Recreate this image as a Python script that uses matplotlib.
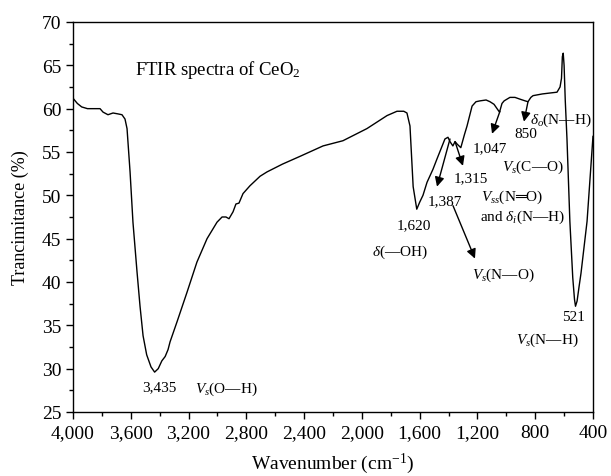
import matplotlib
matplotlib.use('Agg')
import matplotlib.pyplot as plt
from matplotlib.ticker import MultipleLocator, FuncFormatter

plt.rcParams['font.family'] = ['Liberation Serif', 'DejaVu Serif']
plt.rcParams['mathtext.fontset'] = 'custom'
plt.rcParams['mathtext.rm'] = 'Liberation Serif'
plt.rcParams['mathtext.it'] = 'Liberation Serif:italic'

# FTIR spectrum of CeO2 (wavenumber in cm-1, transmittance in %)
wavenumber = [4000, 3970, 3940, 3900, 3850, 3813, 3792, 3758, 3723, 3690, 3661, 3640,
              3626, 3605, 3585, 3557, 3536, 3515, 3490, 3460, 3435, 3410, 3385, 3362,
              3342, 3328, 3280, 3211, 3142, 3072, 3003, 2968, 2941, 2920, 2892, 2872,
              2851, 2823, 2775, 2705, 2657, 2550, 2428, 2269, 2131, 1965, 1826, 1757,
              1710, 1688, 1667, 1645, 1620, 1600, 1577, 1549, 1508, 1480, 1425, 1404,
              1390, 1370, 1355, 1340, 1315, 1290, 1272, 1237, 1210, 1182, 1140, 1113,
              1085, 1060, 1047, 1030, 1015, 975, 940, 906, 870, 850, 830, 815, 750,
              700, 649, 628, 618, 612, 606, 600, 592, 580, 560, 540, 528, 521, 510,
              496, 483, 441, 400]
transmittance = [61.2, 60.6, 60.2, 60.0, 60.0, 60.0, 59.6, 59.3, 59.5, 59.4, 59.3, 58.8,
                 57.7, 52.7, 46.9, 41.2, 37.2, 33.8, 31.6, 30.2, 29.6, 30.0, 30.9, 31.4,
                 32.2, 33.1, 35.4, 38.8, 42.3, 45.0, 46.9, 47.5, 47.5, 47.3, 48.1, 49.0,
                 49.1, 50.2, 51.1, 52.2, 52.7, 53.6, 54.5, 55.7, 56.3, 57.7, 59.2, 59.7,
                 59.7, 59.5, 58.0, 51.0, 48.4, 49.2, 50.0, 51.5, 53.0, 54.2, 56.5, 56.7,
                 56.2, 55.7, 56.2, 55.9, 55.5, 57.0, 58.0, 60.3, 60.8, 60.9, 61.0, 60.8,
                 60.5, 59.9, 59.6, 60.6, 60.9, 61.3, 61.3, 61.1, 60.9, 60.8, 61.3, 61.5,
                 61.7, 61.8, 61.9, 62.5, 63.5, 66.0, 66.4, 65.0, 61.0, 56.5, 47.0, 40.5,
                 38.0, 37.2, 37.8, 39.5, 41.0, 47.0, 56.8]

fig = plt.figure(figsize=(6.11, 4.77), dpi=100)
ax = fig.add_axes([0.1195, 0.1342, 0.851, 0.8176])
ax.plot(wavenumber, transmittance, color='black', lw=1.0)

ax.set_xlim(4000, 400)
ax.set_ylim(25, 70)
ax.xaxis.set_major_locator(MultipleLocator(400))
ax.xaxis.set_minor_locator(MultipleLocator(200))
ax.yaxis.set_major_locator(MultipleLocator(5))
ax.yaxis.set_minor_locator(MultipleLocator(2.5))
ax.xaxis.set_major_formatter(FuncFormatter(lambda v, p: f'{int(v):,}'))
ax.tick_params(which='major', direction='out', length=5, width=1, labelsize=14)
ax.tick_params(which='minor', direction='out', length=3, width=1)
for s in ax.spines.values():
    s.set_linewidth(1.0)

ax.set_xlabel('Wavenumber (cm$^{-1}$)', fontsize=14, labelpad=7)
ax.set_ylabel('Trancimitance (%)', fontsize=13, labelpad=9)

ax.text(3571, 64.6, 'FTIR spectra of CeO$_2$', fontsize=13.5, ha='left', va='center')

# peak labels
fs = 11
ax.text(3400, 27.9, '3,435', fontsize=fs, ha='center', va='center')
ax.text(3155, 27.7, '$V_s$(O—H)', fontsize=fs, ha='left', va='center')
ax.text(1639, 46.6, '1,620', fontsize=fs, ha='center', va='center')
ax.text(1736, 43.5, r'$\delta$(—OH)', fontsize=fs, ha='center', va='center')
ax.text(1425, 49.35, '1,387', fontsize=fs, ha='center', va='center')
ax.text(1245, 52.0, '1,315', fontsize=fs, ha='center', va='center')
ax.text(1113, 55.5, '1,047', fontsize=fs, ha='center', va='center')
ax.text(864, 57.1, '850', fontsize=fs, ha='center', va='center')
ax.text(836, 58.8, r'$\delta_o$(N—H)', fontsize=fs, ha='left', va='center')
ax.text(815, 53.4, '$V_s$(C—O)', fontsize=fs, ha='center', va='center')
ax.text(961, 49.9, '$V_{ss}$(N═O)', fontsize=fs, ha='center', va='center')
ax.text(885, 47.6, r'and $\delta_i$(N—H)', fontsize=fs, ha='center', va='center')
ax.text(1023, 40.9, '$V_s$(N—O)', fontsize=fs, ha='center', va='center')
ax.text(538, 36.0, '521', fontsize=fs, ha='center', va='center')
ax.text(718, 33.4, '$V_s$(N—H)', fontsize=fs, ha='center', va='center')

# arrows
arrow = dict(arrowstyle='-|>', color='black', lw=1.0, mutation_scale=14,
             shrinkA=0, shrinkB=0)
for start, end in [((1390, 56.5), (1480, 51.0)),
                   ((1355, 56.2), (1300, 53.4)),
                   ((1044, 59.7), (1099, 57.1)),
                   ((850, 60.8), (878, 58.5)),
                   ((1369, 48.8), (1217, 42.7))]:
    ax.annotate('', xy=end, xytext=start, arrowprops=arrow)

fig.savefig('out.png', dpi=100)
